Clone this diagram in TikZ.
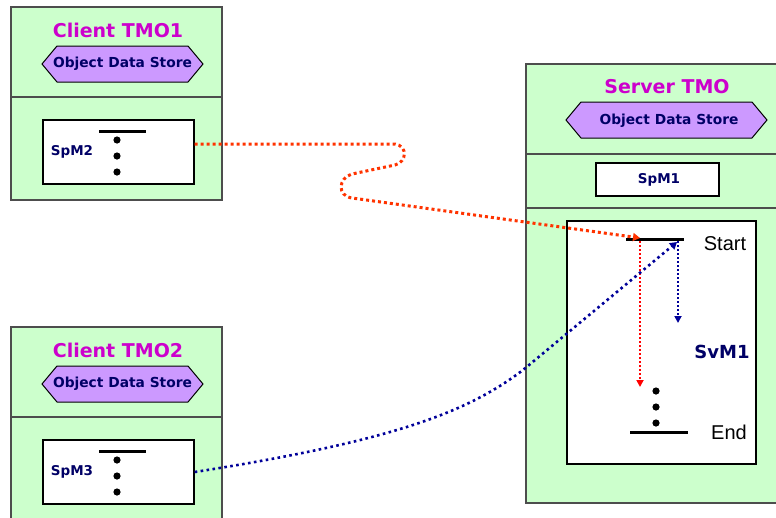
\documentclass[tikz,border=0pt]{standalone}
\usepackage{fontspec}
\setmainfont{DejaVu Sans}
\newfontfamily\plainfont{Liberation Sans}
\usetikzlibrary{arrows.meta}

\definecolor{tmogreen}{HTML}{CCFFCC}
\definecolor{tmoborder}{HTML}{4D4D4D}
\definecolor{tmomagenta}{HTML}{CC00CC}
\definecolor{storepurple}{HTML}{CC99FF}
\definecolor{tmonavy}{HTML}{000066}
\definecolor{linkred}{HTML}{FF3300}
\definecolor{linkblue}{HTML}{000099}

\tikzset{
  tmobox/.style={draw=tmoborder, fill=tmogreen, line width=2pt, inner sep=0pt},
  tmoline/.style={draw=tmoborder, line width=2pt},
  methodbox/.style={draw=black, fill=white, line width=1.4pt, inner sep=0pt},
  store/.style={draw=black, fill=storepurple, line width=1pt},
  storetext/.style={text=tmonavy, font=\bfseries\fontsize{13.8}{16}\selectfont, inner sep=0pt},
  tmotitle/.style={text=tmomagenta, font=\bfseries\fontsize{19}{22}\selectfont, inner sep=0pt},
  methodname/.style={text=tmonavy, font=\bfseries\fontsize{13.5}{16}\selectfont, inner sep=0pt},
  marker/.style={font=\plainfont\fontsize{20}{24}\selectfont, inner sep=0pt},
  bar/.style={line width=3pt},
  redlink/.style={linkred, line width=3pt, dash pattern=on 3pt off 3pt},
  bluelink/.style={linkblue, line width=2.6pt, dash pattern=on 2.6pt off 3.4pt, -{Triangle[length=7pt,width=8pt]}},
  flowred/.style={red, line width=2pt, dash pattern=on 2pt off 2pt, -{Triangle[length=7pt,width=7pt]}},
  flowblue/.style={linkblue, line width=2pt, dash pattern=on 2pt off 2pt, -{Triangle[length=7pt,width=7pt]}}
}

\begin{document}
\begin{tikzpicture}[x=1pt, y=-1pt]
  \useasboundingbox (0,0) rectangle (776,517);

  % Green TMO boxes
  \node[tmobox, minimum width=211pt, minimum height=193pt] (client1) at (116.5,103.5) {};
  \node[tmobox, minimum width=211pt, minimum height=206pt] (client2) at (116.5,430) {};
  \node[tmobox, minimum width=256pt, minimum height=439pt] (server) at (654,283.5) {};

  % Dividers
  \draw[tmoline] (client1.west |- 0,97) -- (client1.east |- 0,97);
  \draw[tmoline] (client2.west |- 0,417) -- (client2.east |- 0,417);
  \draw[tmoline] (server.west |- 0,154) -- (server.east |- 0,154);
  \draw[tmoline] (server.west |- 0,208) -- (server.east |- 0,208);

  % Titles
  \node[tmotitle] (client1title) at (118,30) {Client TMO1};
  \node[tmotitle] (client2title) at (118,350) {Client TMO2};
  \node[tmotitle] (servertitle) at (667,87) {Server TMO};

  % Object data stores (hexagons)
  \foreach \cx/\cy/\hw in {122.5/64/80.5, 122.5/384/80.5, 666.5/120/100.5}
    \filldraw[store] (\cx-\hw,\cy) -- (\cx-\hw+15,\cy-18) -- (\cx+\hw-15,\cy-18)
      -- (\cx+\hw,\cy) -- (\cx+\hw-15,\cy+18) -- (\cx-\hw+15,\cy+18) -- cycle;
  \node[storetext] (client1store) at (122.5,64) {Object Data Store};
  \node[storetext] (client2store) at (122.5,384) {Object Data Store};
  \node[storetext] (serverstore) at (669,121) {Object Data Store};

  % Method boxes
  \node[methodbox, minimum width=151pt, minimum height=64pt] (spm2) at (118.5,152) {};
  \node[methodbox, minimum width=151pt, minimum height=64pt] (spm3) at (118.5,472) {};
  \node[methodbox, minimum width=123pt, minimum height=33pt] (spm1) at (657.5,179.5) {};
  \node[methodbox, minimum width=189pt, minimum height=243pt] (svm1) at (661.5,342.5) {};

  % Method names
  \node[methodname] (spm2name) at (72,152) {SpM2};
  \node[methodname] (spm3name) at (72,472) {SpM3};
  \node[methodname] (spm1name) at (659,180) {SpM1};
  \node[methodname, font=\bfseries\fontsize{18}{22}\selectfont] (svm1name) at (722,352) {SvM1};

  % Bars and dots of the client methods
  \foreach \oy in {0,320} {
    \draw[bar] (99,131+\oy) -- (146,131+\oy);
    \foreach \dy in {140,156,172}
      \fill (117,\dy+\oy) circle (3.6pt);
  }

  % Start and end of SvM1
  \draw[bar] (626,239) -- (684,239);
  \draw[bar] (630,432) -- (688,432);
  \foreach \dy in {391,407,423}
    \fill (656,\dy) circle (3.6pt);
  \node[marker] (start) at (725,244) {Start};
  \node[marker] (end) at (729,432) {End};

  \coordinate (redhit) at (640,238);
  \coordinate (bluehit) at (677,242);

  % Flow inside SvM1
  \draw[flowred] (640,241) -- (640,387);
  \draw[flowblue] (678,241) -- (678,323);

  % Remote calls
  \draw[redlink, -{Triangle[length=7pt,width=8pt]}] (spm2.east |- 0,144) -- (395,144)
    .. controls (408,146) and (407,162) .. (395,165) -- (352,174)
    .. controls (338,178) and (337,196) .. (352,198) -- (redhit);
  \draw[bluelink] (spm3.east) .. controls (400,440) and (470,410) .. (523,370) -- (bluehit);
\end{tikzpicture}
\end{document}
